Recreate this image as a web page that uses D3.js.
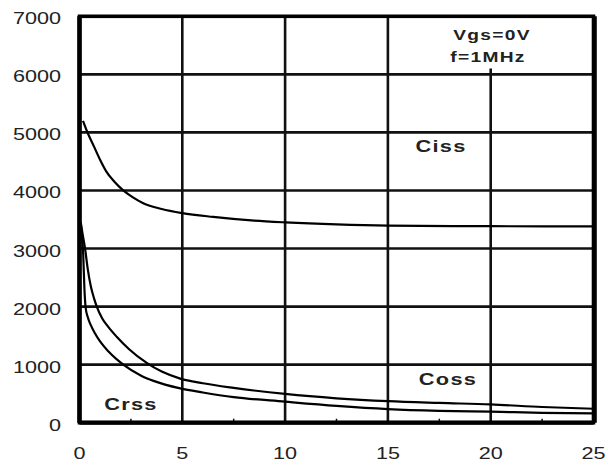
<!DOCTYPE html>
<html>
<head>
<script src="https://cdnjs.cloudflare.com/ajax/libs/d3/7.8.5/d3.min.js"></script>
<style>
  body { margin: 0; background: #fff; }
  text { font-family: "Liberation Sans", Arial, sans-serif; fill: #222; }
</style>
</head>
<body>
<div id="chart"></div>
<script>
const width = 608, height = 466;

// data (x = Vds in V, y = capacitance in pF)
const xTicks = [0, 5, 10, 15, 20, 25];
const yTicks = [0, 1000, 2000, 3000, 4000, 5000, 6000, 7000];
const minorX = [2.5, 7.5, 12.5, 17.5, 22.5];

const cissX = [0.17, 0.4, 0.7, 1.0, 1.3, 1.7, 2.1, 2.6, 3.1, 4, 5, 6.5, 8.5, 10, 12.5, 15, 20, 25];
const cissY = [5200, 4990, 4760, 4530, 4330, 4150, 4010, 3880, 3780, 3680, 3610, 3545, 3480, 3450, 3415, 3395, 3385, 3380];

const cossX = [0.06, 0.15, 0.27, 0.4, 0.55, 0.7, 0.84, 1.1, 1.4, 1.81, 2.4, 3.27, 4, 4.9, 6, 7.5, 10, 12.5, 15, 17.5, 20, 22.5, 25];
const cossY = [3450, 3250, 3000, 2650, 2350, 2150, 2000, 1800, 1650, 1480, 1270, 1030, 880, 760, 680, 600, 495, 420, 370, 340, 315, 270, 240];

const crssX = [0.06, 0.12, 0.18, 0.24, 0.3, 0.4, 0.55, 0.75, 1.0, 1.4, 2.13, 3, 3.6, 4.9, 6, 7.5, 10, 12.5, 15, 17.5, 20, 22.5, 25];
const crssY = [3450, 3200, 2900, 2300, 1980, 1820, 1680, 1540, 1400, 1230, 1000, 810, 720, 590, 520, 440, 362, 290, 235, 205, 190, 170, 160];

const svg = d3.select("#chart").append("svg")
  .attr("width", width).attr("height", height);

svg.append("rect").attr("width", width).attr("height", height).attr("fill", "#fff");

const x = d3.scaleLinear().domain([0, 25]).range([79.5, 593.5]);
const y = d3.scaleLinear().domain([0, 7000]).range([422.7, 16.3]);

// grid
svg.append("g").selectAll("line")
  .data(yTicks.slice(1, -1))
  .join("line")
  .attr("x1", x(0)).attr("x2", x(25))
  .attr("y1", d => y(d)).attr("y2", d => y(d))
  .attr("stroke", "#111").attr("stroke-width", 2.6);

svg.append("g").selectAll("line")
  .data(xTicks.slice(1, -1))
  .join("line")
  .attr("x1", d => x(d)).attr("x2", d => x(d))
  .attr("y1", y(0))
  .attr("y2", d => d === 20 ? y(6100) : y(7000))
  .attr("stroke", "#111").attr("stroke-width", 2.6);

// minor ticks on the bottom axis
svg.append("g").selectAll("line")
  .data(minorX)
  .join("line")
  .attr("x1", d => x(d)).attr("x2", d => x(d))
  .attr("y1", y(0)).attr("y2", y(0) - 4)
  .attr("stroke", "#111").attr("stroke-width", 1.5);

// curves
const line = d3.line()
  .x(d => x(d[0])).y(d => y(d[1]))
  .curve(d3.curveMonotoneX);

[[cissX, cissY], [cossX, cossY], [crssX, crssY]].forEach(([xs, ys]) => {
  svg.append("path")
    .datum(xs.map((v, i) => [v, ys[i]]))
    .attr("d", line)
    .attr("fill", "none")
    .attr("stroke", "#000")
    .attr("stroke-width", 2.2);
});

// frame
svg.append("rect")
  .attr("x", x(0)).attr("y", y(7000))
  .attr("width", x(25) - x(0)).attr("height", y(0) - y(7000))
  .attr("fill", "none").attr("stroke", "#000").attr("stroke-width", 3.6);
svg.append("line")
  .attr("x1", x(0)).attr("x2", x(0)).attr("y1", y(7000)).attr("y2", y(0))
  .attr("stroke", "#000").attr("stroke-width", 4.6);
svg.append("line")
  .attr("x1", x(25) + 1).attr("x2", x(25) + 1).attr("y1", y(7000)).attr("y2", y(0))
  .attr("stroke", "#000").attr("stroke-width", 4.6);
svg.append("line")
  .attr("x1", x(0)).attr("x2", x(25)).attr("y1", y(0)).attr("y2", y(0))
  .attr("stroke", "#000").attr("stroke-width", 4.2);

// tick labels
svg.append("g").selectAll("text")
  .data(yTicks)
  .join("text")
  .attr("transform", d => `translate(61,${y(d) + 8}) scale(1.27,1)`)
  .attr("text-anchor", "end")
  .attr("font-size", 17)
  .text(d => d);

svg.append("g").selectAll("text")
  .data(xTicks)
  .join("text")
  .attr("transform", d => `translate(${x(d)},459) scale(1.27,1)`)
  .attr("text-anchor", "middle")
  .attr("font-size", 17)
  .text(d => d);

// annotations
const notes = [
  { t: "Vgs=0V", x: 492, y: 40, s: 15 },
  { t: "f=1MHz", x: 488, y: 62, s: 15 },
  { t: "Ciss", x: 441, y: 152, s: 17 },
  { t: "Coss", x: 448, y: 385, s: 17 },
  { t: "Crss", x: 131, y: 410, s: 17 }
];
svg.append("g").selectAll("text")
  .data(notes)
  .join("text")
  .attr("transform", d => `translate(${d.x},${d.y}) scale(1.28,1)`)
  .attr("text-anchor", "middle")
  .attr("font-size", d => d.s)
  .attr("font-weight", "bold")
  .attr("letter-spacing", 1)
  .text(d => d.t);
</script>
</body>
</html>
